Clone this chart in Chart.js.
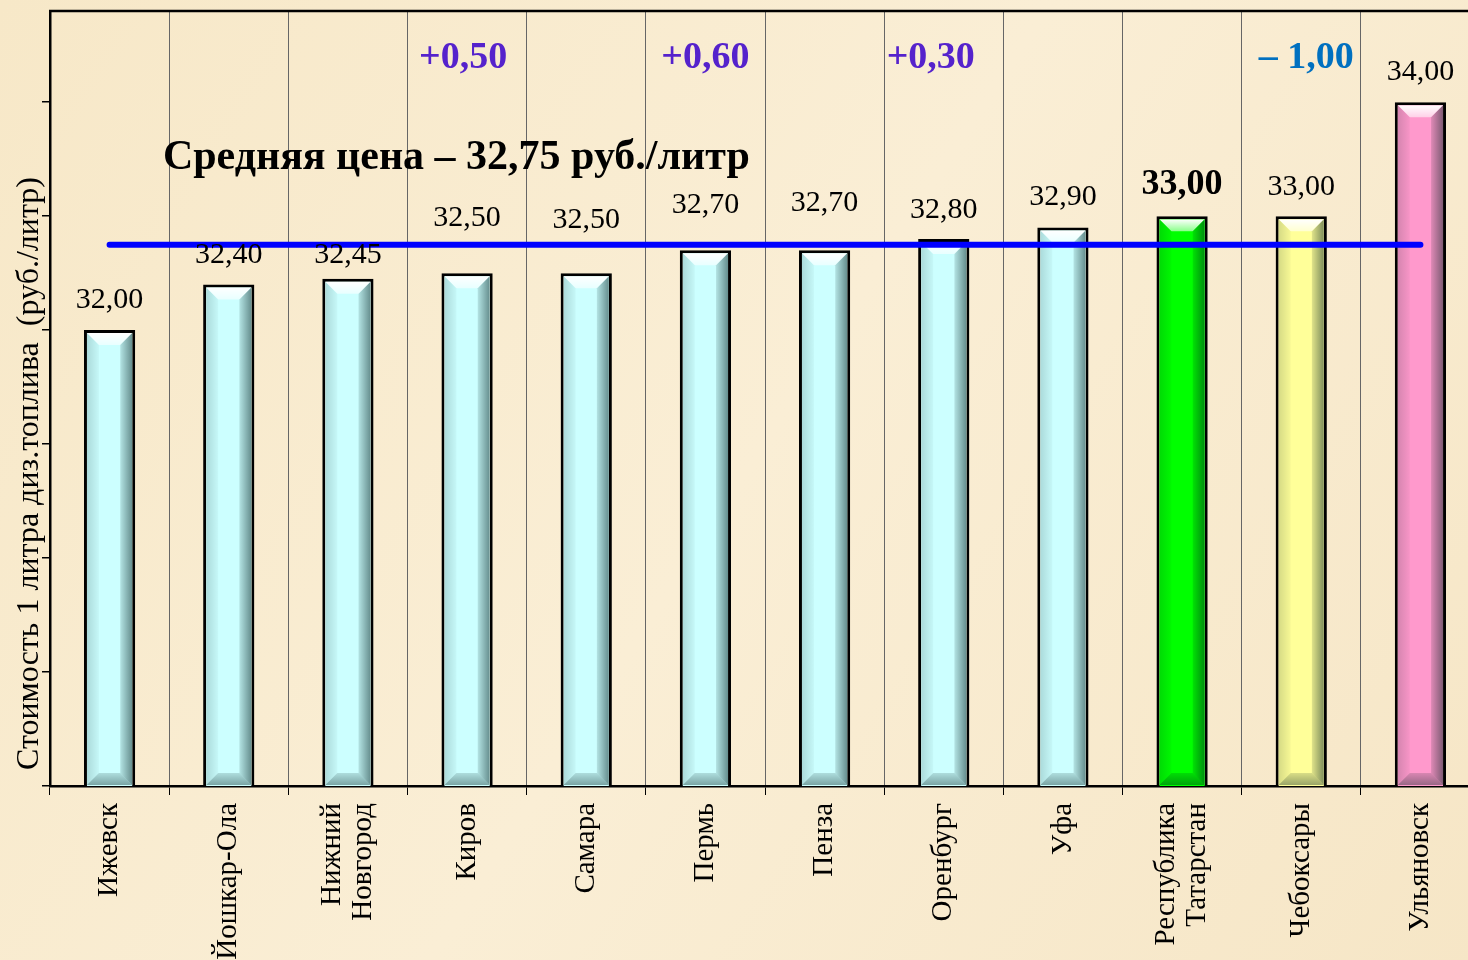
<!DOCTYPE html>
<html>
<head>
<meta charset="utf-8">
<script src="https://cdn.jsdelivr.net/npm/chart.js@4.4.1/dist/chart.umd.min.js"></script>
<style>
  html, body { margin: 0; padding: 0; overflow: hidden; background: #f8ead0; }
  #wrap { position: relative; width: 1482px; height: 960px; }
</style>
</head>
<body>
<div id="wrap"><canvas id="chart"></canvas></div>
<script>
const cities = ['Ижевск', 'Йошкар-Ола', ['Нижний', 'Новгород'], 'Киров', 'Самара', 'Пермь',
  'Пенза', 'Оренбург', 'Уфа', ['Республика', 'Татарстан'], 'Чебоксары', 'Ульяновск'];
const prices = [32.00, 32.40, 32.45, 32.50, 32.50, 32.70, 32.70, 32.80, 32.90, 33.00, 33.00, 34.00];
const priceLabels = ['32,00', '32,40', '32,45', '32,50', '32,50', '32,70', '32,70', '32,80', '32,90', '33,00', '33,00', '34,00'];
const changes = ['', '', '', '+0,50', '', '+0,60', '', '+0,30', '', '', '– 1,00', ''];
const averagePrice = 32.75;
const averageText = 'Средняя цена – 32,75 руб./литр';
const yTitle = 'Стоимость 1 литра диз.топлива  (руб./литр)';

const barColors = ['#ccffff', '#ccffff', '#ccffff', '#ccffff', '#ccffff', '#ccffff',
  '#ccffff', '#ccffff', '#ccffff', '#00ff00', '#ffff99', '#ff99cc'];
// distance (px) from bar top to the middle of its value label
const labelLift = [30, 29, 24, 55, 53, 45, 47, 29, 30, 31, 29, 30];
// small sideways nudges of the change notes
const changeShift = [0, 0, 0, -4, 0, 0, 0, -13, 0, 0, 5, 0];
const changeColors = ['#5522cc', '#5522cc', '#5522cc', '#5522cc', '#5522cc', '#5522cc',
  '#5522cc', '#5522cc', '#5522cc', '#5522cc', '#0070c0', '#5522cc'];
const SERIF = '"Liberation Serif", "Times New Roman", serif';

const background = {
  id: 'background',
  beforeDraw(chart) {
    const { ctx, width, height } = chart;
    ctx.save();
    const g = ctx.createLinearGradient(0, 0, width, height);
    g.addColorStop(0, '#f7e8c8');
    g.addColorStop(0.5, '#faeed5');
    g.addColorStop(1, '#f6e6c6');
    ctx.fillStyle = g;
    ctx.fillRect(0, 0, width, height);
    ctx.restore();
  },
  beforeDatasetsDraw(chart) {
    const { ctx, chartArea: a } = chart;
    ctx.save();
    ctx.strokeStyle = '#000';
    ctx.lineWidth = 2.5;
    ctx.beginPath();
    ctx.moveTo(a.left - 1, a.top);
    ctx.lineTo(a.right, a.top);
    ctx.stroke();
    ctx.restore();
  }
};

// city names, rotated, multi-line names centred on their tick
const cityLabels = {
  id: 'cityLabels',
  afterDraw(chart) {
    const { ctx } = chart;
    const xs = chart.scales.x;
    const lh = 31;
    ctx.save();
    ctx.font = '29px ' + SERIF;
    ctx.fillStyle = '#000';
    ctx.textAlign = 'right';
    ctx.textBaseline = 'middle';
    cities.forEach((name, i) => {
      const lines = Array.isArray(name) ? name : [name];
      const px = xs.getPixelForTick(i);
      lines.forEach((line, j) => {
        ctx.save();
        ctx.translate(px + (j - (lines.length - 1) / 2) * lh, xs.top + 17);
        ctx.rotate(-Math.PI / 2);
        ctx.fillText(line, 0, 0);
        ctx.restore();
      });
    });
    ctx.restore();
  }
};

const bevel = {
  id: 'bevel',
  afterDatasetDraw(chart, args) {
    if (args.meta.type !== 'bar') return;
    const ctx = chart.ctx;
    const area = chart.chartArea;
    args.meta.data.forEach(el => {
      const { x, y, base, width } = el.getProps(['x', 'y', 'base', 'width'], true);
      const l = x - width / 2 + 3, r = x + width / 2 - 3, t = y + 3;
      const b = Math.min(base, area.bottom) - 1;
      const d = 12;
      ctx.save();
      ctx.beginPath();
      ctx.rect(l, t, r - l, b - t);
      ctx.clip();
      // top facet
      let g = ctx.createLinearGradient(0, t, 0, t + d);
      g.addColorStop(0, 'rgba(255,255,255,1)');
      g.addColorStop(1, 'rgba(255,255,255,0.55)');
      ctx.fillStyle = g;
      ctx.beginPath();
      ctx.moveTo(l, t); ctx.lineTo(r, t); ctx.lineTo(r - d, t + d); ctx.lineTo(l + d, t + d); ctx.closePath();
      ctx.fill();
      // right facet
      g = ctx.createLinearGradient(r - d, 0, r, 0);
      g.addColorStop(0, 'rgba(0,30,30,0.12)');
      g.addColorStop(1, 'rgba(0,30,30,0.5)');
      ctx.fillStyle = g;
      ctx.beginPath();
      ctx.moveTo(r, t); ctx.lineTo(r, b); ctx.lineTo(r - d, b - d); ctx.lineTo(r - d, t + d); ctx.closePath();
      ctx.fill();
      // left facet
      g = ctx.createLinearGradient(l, 0, l + d, 0);
      g.addColorStop(0, 'rgba(0,30,30,0.16)');
      g.addColorStop(1, 'rgba(0,30,30,0.03)');
      ctx.fillStyle = g;
      ctx.beginPath();
      ctx.moveTo(l, t); ctx.lineTo(l + d, t + d); ctx.lineTo(l + d, b - d); ctx.lineTo(l, b); ctx.closePath();
      ctx.fill();
      // bottom facet
      g = ctx.createLinearGradient(0, b - d, 0, b);
      g.addColorStop(0, 'rgba(0,30,30,0.15)');
      g.addColorStop(1, 'rgba(0,30,30,0.4)');
      ctx.fillStyle = g;
      ctx.beginPath();
      ctx.moveTo(l, b); ctx.lineTo(l + d, b - d); ctx.lineTo(r - d, b - d); ctx.lineTo(r, b); ctx.closePath();
      ctx.fill();
      ctx.restore();
    });
  }
};

const texts = {
  id: 'texts',
  afterDatasetsDraw(chart) {
    const { ctx, scales: { x, y } } = chart;
    const meta = chart.getDatasetMeta(1);
    ctx.save();
    ctx.textAlign = 'center';
    ctx.textBaseline = 'middle';
    ctx.fillStyle = '#000';
    meta.data.forEach((bar, i) => {
      const bold = i === 9;
      ctx.font = (bold ? 'bold 36px ' : '30px ') + SERIF;
      ctx.fillText(priceLabels[i], bar.x, bar.y - labelLift[i]);
    });
    ctx.font = 'bold 38px ' + SERIF;
    changes.forEach((c, i) => {
      if (!c) return;
      ctx.fillStyle = changeColors[i];
      ctx.fillText(c, x.getPixelForValue(i) + changeShift[i], y.getPixelForValue(34.39));
    });
    ctx.fillStyle = '#000';
    ctx.font = 'bold 42px ' + SERIF;
    ctx.fillText(averageText, x.getPixelForValue(2.91), y.getPixelForValue(33.51));
    ctx.restore();
  }
};

new Chart(document.getElementById('chart'), {
  data: {
    labels: cities,
    datasets: [
      {
        type: 'line',
        data: cities.map(() => averagePrice),
        borderColor: '#0000ff',
        borderWidth: 6,
        borderCapStyle: 'round',
        pointRadius: 0,
        fill: false
      },
      {
        type: 'bar',
        data: prices,
        backgroundColor: barColors,
        borderColor: '#000',
        borderWidth: 3,
        barPercentage: 0.43,
        categoryPercentage: 1
      }
    ]
  },
  options: {
    responsive: true,
    maintainAspectRatio: false,
    animation: false,
    layout: { padding: { top: 11, left: 0, right: 2, bottom: 0 } },
    plugins: { legend: { display: false }, tooltip: { enabled: false } },
    scales: {
      x: {
        grid: {
          color: '#666',
          lineWidth: 1,
          borderDash: [2, 2],
          tickBorderDash: [],
          tickColor: '#000',
          tickLength: 9
        },
        border: { color: '#000', width: 2.5 },
        ticks: { display: false, autoSkip: false },
        afterFit(s) { s.height = 174; }
      },
      y: {
        min: 28,
        max: 34.8,
        ticks: { display: false, stepSize: 1 },
        afterBuildTicks(s) { s.ticks = s.ticks.filter(t => Number.isInteger(t.value)); },
        grid: { drawOnChartArea: false, drawTicks: true, tickLength: 8, color: '#000', lineWidth: 1.5 },
        border: { color: '#000', width: 2.5 },
        title: {
          display: true,
          text: '  ' + yTitle,
          align: 'start',
          color: '#000',
          padding: { top: 14, bottom: 0 },
          font: { family: SERIF, size: 32, lineHeight: 1.0 }
        },
        afterFit(s) { s.width = 50; }
      }
    }
  },
  plugins: [background, bevel, texts, cityLabels]
});
</script>
</body>
</html>
